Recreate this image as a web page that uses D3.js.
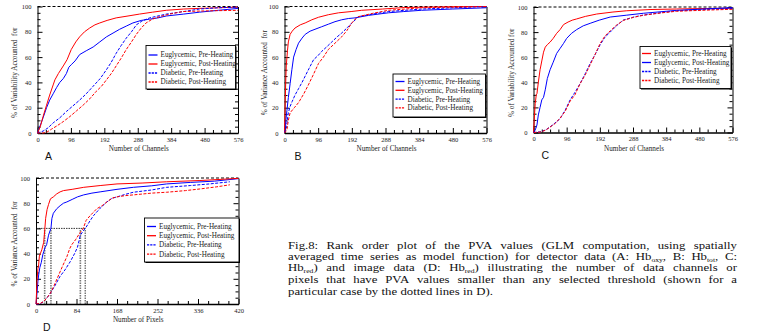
<!DOCTYPE html>
<html>
<head>
<meta charset="utf-8">
<script src="https://cdn.jsdelivr.net/npm/d3@7"></script>
<style>
  html, body { margin: 0; padding: 0; background: #fff; }
  svg { display: block; }
  .serif { font-family: "Liberation Serif", "Times New Roman", serif; }
</style>
</head>
<body>
<div id="chart"></div>
<script>
const width = 767;
const height = 334;

// Tick values
const channelTicks = [0, 96, 192, 288, 384, 480, 576];
const pixelTicks = [0, 84, 168, 252, 336, 420];
const percentTicks = [0, 20, 40, 60, 80, 100];

const seriesLabels = [
  'Euglycemic, Pre-Heating',
  'Euglycemic, Post-Heating',
  'Diabetic, Pre-Heating',
  'Diabetic, Post-Heating',
];

// Panel A: Hb oxy, detector data
const aEuPre = [[0,0],[8,6],[16,12],[26,20],[35,26],[45,31],[55,36],[64,40],[74,43],[83,47],[90,52],[97,54],[108,57],[121,62],[140,65],[160,68],[179,72],[198,76],[217,79],[236,82],[255,84.5],[274,87],[298,89],[322,90],[346,91],[370,92.5],[420,94],[465,95.5],[520,97],[576,98.5]];
const aEuPost = [[0,0],[8,5],[16,13],[26,22],[35,30],[45,38],[50,42],[60,47],[74,53],[85,58],[97,66],[110,72],[121,76],[135,80],[150,83],[165,85.5],[179,87],[200,89],[226,91],[260,92.5],[293,94],[330,95.5],[370,97],[420,98],[465,98.5],[520,99],[576,99.5]];
const aDiPre = [[0,0],[16,1.5],[30,4],[45,8],[64,12],[83,17],[100,21],[121,26],[140,31],[160,37],[180,43],[198,50],[212,56],[226,63],[240,69],[255,75],[270,80],[284,85.5],[300,88.5],[322,91],[346,92.5],[370,94],[420,96],[465,98],[520,99],[576,99.5]];
const aDiPost = [[0,0],[16,0],[26,0.5],[40,3],[55,5.5],[74,9],[93,13],[112,17.5],[131,22],[150,27],[169,33],[184,37],[198,42],[212,47],[226,53],[240,59],[255,66],[270,72],[284,78],[298,83],[312,87],[330,90],[351,92],[380,94],[417,96],[480,96.5],[576,97]];

// Panel B: Hb tot, detector data
const bEuPre = [[0,0],[3,8],[7,18],[11,28],[16,39],[21,50],[26,60],[33,66],[40,71],[50,75],[59,78],[73,80.5],[87,82],[106,84],[125,86],[144,88],[163,89.5],[182,90.5],[201,91],[240,93],[296,95],[340,96],[391,97],[480,98],[576,99]];
const bEuPost = [[0,0],[2,25],[4,45],[5,53],[7,60],[8.5,65],[11,72],[16,78],[22,80.5],[30,83],[45,85.5],[59,87],[78,89.5],[97,91.5],[125,93.5],[154,95],[190,96],[220,97],[280,98],[343,99.2],[450,99.7],[576,100]];
const bDiPre = [[0,0],[3,3],[7,8],[11,16],[16,21],[22,25],[30,30],[40,35],[50,40],[59,45],[70,51],[83,58],[95,61],[106,64.5],[120,68],[135,72],[150,76],[163,79],[178,83],[192,87],[204,90],[211,92],[240,93.5],[296,96],[391,98],[480,99],[576,100]];
const bDiPost = [[0,0],[3,1],[7,3],[11,10],[16,16],[28,20],[40,24],[55,31],[68,38],[82,46],[97,55],[111,60],[125,66],[144,71],[163,76],[178,81],[192,87],[205,91],[211,92],[250,94.5],[296,97],[391,99],[480,99.5],[576,100]];

// Panel C: Hb red, detector data
const cEuPre = [[0,0],[2,10],[5,23],[8,30],[10,31],[14,40],[19,50],[24,57],[29,64],[34,68],[40,70],[48,72],[57,75],[67,79],[77,82],[87,86],[100,88],[112,89.5],[125,90.5],[150,92.5],[183,94.4],[230,96],[270,97],[340,98],[414,98.4],[500,98.8],[576,99]];
const cEuPost = [[0,0],[5,2],[10,6],[14,14],[19,20],[24,26],[29,28],[34,34],[40,43],[48,50],[57,56],[67,63],[77,67],[87,71],[96,75],[110,79],[125,82],[144,85],[164,87],[190,89.5],[222,92],[270,93.5],[318,95],[414,97.3],[500,98.5],[576,99.5]];
const cDiPre = [[0,0],[19,0.5],[35,2],[48,4.5],[62,7.5],[77,11],[92,18],[106,26],[120,32],[135,39],[150,47],[164,55],[178,62],[193,70],[207,76],[222,80],[240,85],[260,89.6],[290,92],[318,93.6],[370,95.5],[414,97],[500,98],[576,98.8]];
const cDiPost = [[0,0],[19,0.3],[35,1.8],[48,4.3],[62,7],[77,11.5],[92,17],[106,25],[120,30],[135,39],[150,46],[164,54],[178,62],[193,71],[207,77],[222,81],[240,85.5],[260,89.3],[290,91.8],[318,93.4],[370,95.3],[414,96.6],[500,97.5],[576,98.2]];

// Panel D: Hb red, image data (pixels)
const dEuPre = [[0,0],[2,8],[4,18],[5.5,23],[8,29],[11,33],[14,39],[16,41.5],[19,45],[22,47],[26,54.6],[29,58],[31,60],[33,68],[36,72],[43,75.6],[50,78],[57,80],[64,81],[75,83],[86,85],[99,86.6],[116,88],[133,89],[168,91],[202,92.6],[240,93.8],[271,95.3],[320,96.5],[370,97.5],[420,99.5]];
const dEuPost = [[0,0],[1,8],[2,18],[4,28],[5.5,31],[7,38],[9,40],[12,43],[16,49],[18,58],[20,68],[23,75],[26,79],[30,83.5],[36,85],[43,87.4],[50,89],[57,90],[75,91],[99,92.6],[133,94],[168,95.3],[220,96],[271,97],[340,98],[420,99.7]];
const dDiPre = [[0,0],[5,0],[9,0.3],[16,2],[23,5],[30,8.7],[40,15],[50,22],[60,27],[71,33.6],[80,40],[86,45],[92,54.6],[98,58],[104,61],[112,66],[119,70],[133,76],[147,81],[158,84],[168,85],[185,87],[202,88.7],[240,90.5],[271,92.6],[320,94],[360,95.3],[402,97]];
const dDiPost = [[0,0],[9,0.5],[16,2],[23,5],[30,8.7],[38,15],[47,23],[55,30],[64,37.5],[70,44],[74,47],[82,51],[92,57],[98,60],[104,66.4],[112,70],[126,75.6],[137,78],[147,81],[158,84],[168,85],[185,86],[202,86.6],[240,88],[271,88.7],[310,90],[340,91.3],[375,93],[402,94.6]];

// Threshold shown with dotted lines in D
const dThreshold = 60;
const dCrossings = [18, 31, 92, 102];

const red = '#ff0000';
const blue = '#0000ff';

const svg = d3.select('#chart').append('svg')
  .attr('width', width)
  .attr('height', height)
  .attr('viewBox', `0 0 ${width} ${height}`);

const drawPanel = (p) => {
  const g = svg.append('g').attr('class', 'serif');
  const x = d3.scaleLinear().domain([0, p.ticks[p.ticks.length - 1]]).range([p.x0, p.x1]);
  const y = d3.scaleLinear().domain([0, 100]).range([p.y1, p.y0]);
  const step = p.ticks[1];
  const minorX = d3.range(0, p.ticks[p.ticks.length - 1], step / 4).filter((v) => v % step !== 0);
  const minorY = d3.range(0, 100, 5).filter((v) => v % 20 !== 0);

  // minor ticks first
  g.append('g').attr('transform', `translate(0,${p.y1})`)
    .call(d3.axisBottom(x).tickValues(minorX).tickSize(-3).tickFormat(''))
    .call((s) => s.select('.domain').remove());
  g.append('g').attr('transform', `translate(${p.x0},0)`)
    .call(d3.axisLeft(y).tickValues(minorY).tickSize(-3).tickFormat(''))
    .call((s) => s.select('.domain').remove());
  g.append('g').attr('transform', `translate(${p.x1},0)`)
    .call(d3.axisRight(y).tickValues(minorY).tickSize(-3).tickFormat(''))
    .call((s) => s.select('.domain').remove());

  // major axes
  const xAxis = g.append('g').attr('transform', `translate(0,${p.y1})`)
    .call(d3.axisBottom(x).tickValues(p.ticks).tickSizeInner(-5).tickSizeOuter(0).tickPadding(4));
  g.append('g').attr('transform', `translate(${p.x0},0)`)
    .call(d3.axisLeft(y).tickValues(percentTicks).tickSizeInner(-5).tickSizeOuter(0).tickPadding(6));
  g.append('g').attr('transform', `translate(${p.x1},0)`)
    .call(d3.axisRight(y).tickValues(percentTicks).tickSizeInner(-5).tickSizeOuter(0).tickFormat(''));

  g.selectAll('.tick text')
    .attr('font-family', '"Liberation Serif", "Times New Roman", serif')
    .attr('font-size', 6.5)
    .attr('fill', '#222');
  g.selectAll('.domain, .tick line').attr('stroke', '#000').attr('stroke-width', 1);
  xAxis.select('.domain').attr('stroke-width', 1.3);

  // dashed 100 % line along the top
  g.append('line')
    .attr('x1', p.x0).attr('x2', p.x1)
    .attr('y1', y(100)).attr('y2', y(100))
    .attr('stroke', '#000')
    .attr('stroke-width', 1)
    .attr('stroke-dasharray', '3,2');

  // axis titles
  g.append('text')
    .attr('x', (p.x0 + p.x1) / 2 + 1)
    .attr('y', p.y1 + 18)
    .attr('text-anchor', 'middle')
    .attr('font-size', 7.2)
    .attr('fill', '#222')
    .text(p.xTitle);
  g.append('text')
    .attr('transform', `translate(${p.yTitleX},${(p.y0 + p.y1) / 2 + 3}) rotate(-90)`)
    .attr('text-anchor', 'middle')
    .attr('font-size', 7.2)
    .attr('fill', '#222')
    .style('white-space', 'pre')
    .text(p.yTitle);

  // panel letter
  svg.append('text')
    .attr('x', p.letterX)
    .attr('y', p.y1 + 26.5)
    .attr('font-family', '"Liberation Sans", Arial, sans-serif')
    .attr('font-size', 10.5)
    .attr('fill', '#111')
    .text(p.letter);

  // extra annotation (dotted threshold lines)
  if (p.threshold) {
    const last = d3.max(p.threshold.crossings);
    g.append('line')
      .attr('x1', x(0)).attr('x2', x(last))
      .attr('y1', y(p.threshold.value)).attr('y2', y(p.threshold.value))
      .attr('stroke', '#000').attr('stroke-width', 0.8).attr('stroke-dasharray', '1.5,1');
    g.selectAll('.vcross')
      .data(p.threshold.crossings)
      .enter()
      .append('line')
      .attr('x1', (d) => x(d)).attr('x2', (d) => x(d))
      .attr('y1', y(0)).attr('y2', y(p.threshold.value))
      .attr('stroke', (d, i) => (i === p.threshold.crossings.length - 1 ? '#000' : '#777'))
      .attr('stroke-width', (d, i) => (i === p.threshold.crossings.length - 1 ? 0.8 : 1.6))
      .attr('stroke-dasharray', '1.5,1');
  }

  // curves
  const line = d3.line().x((d) => x(d[0])).y((d) => y(d[1]));
  p.series.forEach((s) => {
    g.append('path')
      .datum(s.values)
      .attr('d', line)
      .attr('fill', 'none')
      .attr('stroke', s.color)
      .attr('stroke-width', 1)
      .attr('stroke-dasharray', s.dashed ? '3,1.5' : null);
  });

  // legend
  const L = p.legend;
  const lg = g.append('g').attr('transform', `translate(${L.x},${L.y})`);
  lg.append('rect')
    .attr('x', 1).attr('y', 1)
    .attr('width', L.w).attr('height', L.h)
    .attr('fill', '#000');
  lg.append('rect')
    .attr('width', L.w).attr('height', L.h)
    .attr('fill', '#fff')
    .attr('stroke', '#000')
    .attr('stroke-width', 0.9);
  p.series.forEach((s, i) => {
    const ry = L.rowY + i * L.rowH;
    lg.append('line')
      .attr('x1', L.lineX).attr('x2', L.lineX + 9)
      .attr('y1', ry).attr('y2', ry)
      .attr('stroke', s.color)
      .attr('stroke-width', 1.3)
      .attr('stroke-dasharray', s.dashed ? '2.2,1' : null);
    lg.append('text')
      .attr('x', L.lineX + 12)
      .attr('y', ry + 2.4)
      .attr('font-size', 7.2)
      .attr('fill', '#222')
      .text(s.label);
  });
};

const mkSeries = (values, colors) => values.map((v, i) => ({
  values: v,
  color: colors[i],
  dashed: i >= 2,
  label: seriesLabels[i],
}));

drawPanel({
  letter: 'A', letterX: 45,
  x0: 37.5, x1: 238, y0: 6.5, y1: 133,
  ticks: channelTicks,
  xTitle: 'Number of Channels',
  yTitle: '% of Variability Accounted  for', yTitleX: 17,
  series: mkSeries([aEuPre, aEuPost, aDiPre, aDiPost], [blue, red, blue, red]),
  legend: { x: 146, y: 45.5, w: 89.5, h: 43.5, lineX: 2.5, rowY: 9.5, rowH: 9 },
});

drawPanel({
  letter: 'B', letterX: 294.5,
  x0: 284.5, x1: 486.5, y0: 6.5, y1: 133,
  ticks: channelTicks,
  xTitle: 'Number of Channels',
  yTitle: '% of Variance Accounted  for', yTitleX: 267,
  series: mkSeries([bEuPre, bEuPost, bDiPre, bDiPost], [blue, red, blue, red]),
  legend: { x: 393, y: 74, w: 92.5, h: 43, lineX: 2.5, rowY: 7.5, rowH: 8.8 },
});

drawPanel({
  letter: 'C', letterX: 541.5,
  x0: 533.5, x1: 732.5, y0: 7, y1: 132.5,
  ticks: channelTicks,
  xTitle: 'Number of Channels',
  yTitle: '% of Variability Accounted for', yTitleX: 513.5,
  series: mkSeries([cEuPre, cEuPost, cDiPre, cDiPost], [red, blue, blue, red]),
  legend: { x: 640, y: 46.5, w: 91, h: 42, lineX: 2, rowY: 7, rowH: 9 },
});

drawPanel({
  letter: 'D', letterX: 43,
  x0: 36, x1: 238.5, y0: 178, y1: 304,
  ticks: pixelTicks,
  xTitle: 'Number of Pixels',
  yTitle: '% of Variance Accounted  for', yTitleX: 16.5,
  series: mkSeries([dEuPre, dEuPost, dDiPre, dDiPost], [blue, red, blue, red]),
  legend: { x: 144.5, y: 218, w: 94.5, h: 44, lineX: 2.5, rowY: 8.5, rowH: 9.2 },
  threshold: { value: dThreshold, crossings: dCrossings },
});

// Caption, justified line by line
const captionLines = [
  [[['Fig.8:']], [['Rank']], [['order']], [['plot']], [['of']], [['the']], [['PVA']], [['values']], [['(GLM']], [['computation,']], [['using']], [['spatially']]],
  [[['averaged']], [['time']], [['series']], [['as']], [['model']], [['function)']], [['for']], [['detector']], [['data']], [['(A:']], [['Hb'], ['oxy', 1], [',']], [['B:']], [['Hb'], ['tot', 1], [',']], [['C:']]],
  [[['Hb'], ['red', 1], [')']], [['and']], [['image']], [['data']], [['(D:']], [['Hb'], ['red', 1], [')']], [['illustrating']], [['the']], [['number']], [['of']], [['data']], [['channels']], [['or']]],
  [[['pixels']], [['that']], [['have']], [['PVA']], [['values']], [['smaller']], [['than']], [['any']], [['selected']], [['threshold']], [['(shown']], [['for']], [['a']]],
  [[['particular']], [['case']], [['by']], [['the']], [['dotted']], [['lines']], [['in']], [['D).']]],
];
const captionLeft = 288;
const captionRight = 737;
const captionBaselines = [248.5, 259.9, 271.3, 282.7, 294.5];
const captionSize = 11;
const captionStretch = 1.16; // glyphs in the source are wider than Liberation Serif

const cap = svg.append('g').attr('class', 'serif').attr('fill', '#111');
captionLines.forEach((words, li) => {
  const nodes = words.map((segs) => {
    const t = cap.append('text')
      .attr('y', captionBaselines[li])
      .attr('font-size', captionSize);
    segs.forEach(([str, sub], si) => {
      const ts = t.append('tspan').text(str);
      if (sub) ts.attr('font-size', captionSize * 0.6).attr('dy', 1.6);
      else if (si > 0 && segs[si - 1][1]) ts.attr('dy', -1.6);
    });
    return t;
  });
  // widen the glyphs without a transform
  const widths = nodes.map((n) => {
    const w = n.node().getComputedTextLength() * captionStretch;
    n.attr('textLength', w).attr('lengthAdjust', 'spacingAndGlyphs');
    return w;
  });
  const total = d3.sum(widths);
  const justify = li < captionLines.length - 1;
  const gap = justify ? (captionRight - captionLeft - total) / (nodes.length - 1) : captionSize * 0.3;
  let cx = captionLeft;
  nodes.forEach((n, i) => {
    n.attr('x', cx);
    cx += widths[i] + gap;
  });
});
</script>
</body>
</html>
